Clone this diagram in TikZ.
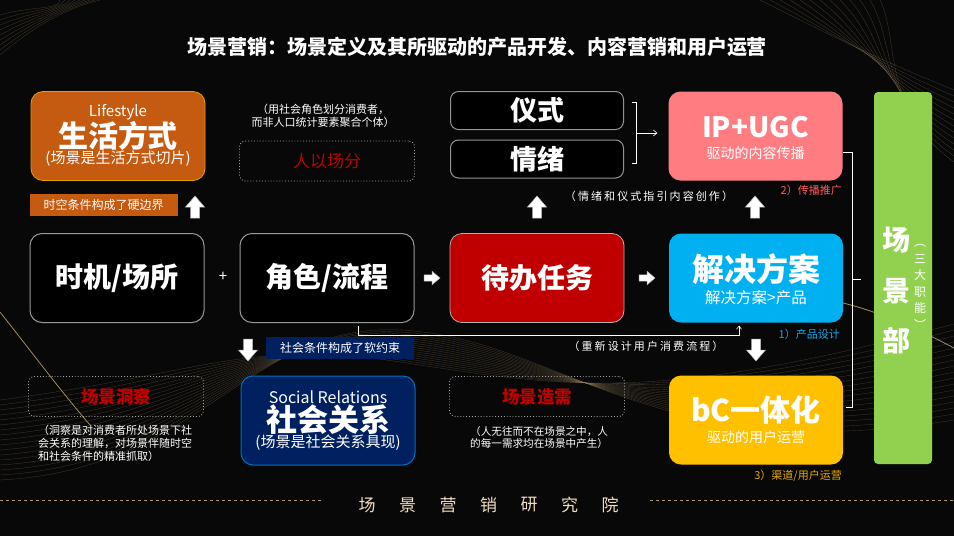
\documentclass[tikz,border=0pt]{standalone}
\usepackage{fontspec}
\setmainfont{Noto Sans CJK SC}
\usetikzlibrary{positioning,arrows.meta}

\definecolor{bgblack}{HTML}{080808}
\definecolor{lifeorange}{HTML}{C55A11}
\definecolor{lifeedge}{HTML}{E0A000}
\definecolor{ippink}{HTML}{FF7C80}
\definecolor{taskred}{HTML}{C00000}
\definecolor{solblue}{HTML}{00B0F0}
\definecolor{bcyellow}{HTML}{FFC000}
\definecolor{deptgreen}{HTML}{92D050}
\definecolor{socnavy}{HTML}{002060}
\definecolor{socedge}{HTML}{0070C0}
\definecolor{capred}{HTML}{FF5B5B}
\definecolor{capblue}{HTML}{10A8E8}
\definecolor{capyellow}{HTML}{E8AA00}
\definecolor{goldline}{HTML}{A08A60}
\definecolor{footbeige}{HTML}{F0DEC0}

\newcommand{\fsz}[1]{\fontsize{#1}{#1}\selectfont}

\tikzset{
  card/.style={rounded corners=12pt, minimum width=174pt, minimum height=89pt, inner sep=0pt},
  darkcard/.style={card, draw=gray!80, line width=1pt, fill=black},
  slimcard/.style={draw=gray!85, line width=1pt, fill=black, rounded corners=8pt,
    minimum width=173pt, minimum height=38pt, inner sep=0pt},
  dotbox/.style={draw=gray!75, dotted, line width=0.9pt, rounded corners=6pt,
    minimum width=175pt, minimum height=40pt, inner sep=0pt},
  tagbox/.style={minimum width=148pt, minimum height=22pt, inner sep=0pt,
    text=white, font=\fsz{12}},
  headtxt/.style={text=white, font=\fsz{28}\bfseries, inner sep=0pt},
  subtxt/.style={text=white, font=\fsz{14}, inner sep=0pt},
  note/.style={text=white, font=\fontsize{11}{13}\selectfont, inner sep=0pt},
  spaced/.style={text=white, inner sep=0pt,
    font=\fsz{11}\addfontfeature{LetterSpace=19}},
  wave/.style={draw=goldline, line width=0.3pt, opacity=0.4},
  thinline/.style={draw=white, line width=0.6pt},
  footline/.style={draw=goldline!90!white, dashed, line width=0.7pt},
  blkarrow/.pic={
    \filldraw[fill=white, draw=gray!60, line width=0.5pt]
      (-4.5,11) -- (-4.5,0) -- (-9.5,0) -- (0,-11) -- (9.5,0) -- (4.5,0) -- (4.5,11) -- cycle;
  }
}

\begin{document}
\begin{tikzpicture}[x=1pt, y=-1pt]
  \useasboundingbox (0,0) rectangle (954,536);
  \clip (0,0) rectangle (954,536);
  \fill[bgblack] (0,0) rectangle (954,536);

  % background waves
  \foreach \i in {0,...,16} {
    \draw[wave] (0,480-5*\i) .. controls (200,470-6*\i) and (250,322+\i) .. (400,330+2*\i)
      .. controls (560,338+3*\i) and (650,470-4*\i) .. (954,420-6*\i);
  }
  \foreach \i in {0,...,12} {
    \draw[wave] (760+10*\i,0) .. controls (840+5*\i,40) and (880,60+4*\i) .. (954,90+6*\i);
  }
  \foreach \i in {0,...,8} {
    \draw[wave] (0,55-5*\i) .. controls (30,30-3*\i) and (60,10) .. (100-5*\i,0);
  }
  \draw[goldline, line width=0.8pt] (0,312) .. controls (30,350) and (60,390) .. (90,425);
  \draw[goldline, line width=0.8pt] (843,303) .. controls (880,312) and (920,330) .. (954,348);

  % title
  \node[text=white, font=\fsz{20}\bfseries] (title) at (477,47)
    {场景营销：场景定义及其所驱动的产品开发、内容营销和用户运营};

  % top row
  \node[card, fill=lifeorange, draw=lifeedge, line width=0.8pt] (life) at (118,136) {};
  \node[text=white, font=\fsz{15}, inner sep=0pt] (lifeEn) at (118,112) {Lifestyle};
  \node[headtxt, font=\fsz{30}\bfseries] (lifeCn) at (118,136) {生活方式};
  \node[subtxt, font=\fsz{15}] (lifeSub) at (118,159) {(场景是生活方式切片)};
  \node[tagbox, fill=lifeorange] (hardtag) at (103.5,205) {时空条件构成了硬边界};
  \path (195,207) pic {blkarrow};

  \node[note, align=center] (roleNote) at (323,116)
    {（用社会角色划分消费者，\\而非人口统计要素聚合个体）};
  \node[dotbox, text=taskred, font=\fsz{17}] (bygroup) at (327,161) {人以场分};

  \node[slimcard, headtxt, font=\fsz{27}\bfseries] (ritual) at (537,110.5) {仪式};
  \node[slimcard, headtxt, font=\fsz{27}\bfseries] (emotion) at (537,159) {情绪};
  \coordinate (brTop) at (632,102);
  \coordinate (brBot) at (632,163);
  \coordinate (brMid) at (636,133);
  \draw[thinline] (brTop) -- ++(4,0) -- ([xshift=4pt]brBot) -- (brBot);

  \node[card, fill=ippink] (ip) at (755.5,136) {};
  \node[headtxt] (ipT) at (755.5,127) {IP+UGC};
  \node[subtxt] (ipSub) at (755.5,153) {驱动的内容传播};
  \draw[thinline, -{Straight Barb[length=3.5pt,width=6pt]}, shorten >=11pt] (brMid) -- (brMid -| ip.west);
  \node[text=capred, font=\fsz{11}, inner sep=0pt, anchor=east] (cap2) at (842,190) {2）传播推广};
  \node[spaced] (ritualNote) at (649,196) {（情绪和仪式指引内容创作）};
  \path (537,207) pic {blkarrow};
  \path (755,207) pic {blkarrow};

  % middle row
  \node[darkcard, headtxt] (timeplace) at (117,278) {时机/场所};
  \node[text=white, font=\fsz{15}, inner sep=0pt] (plus) at (223,277) {+};
  \node[darkcard, headtxt] (role) at (327,278) {角色/流程};
  \path (432,278) pic[rotate=-90, scale=0.72] {blkarrow};
  \node[card, fill=taskred, draw=gray!60, line width=0.8pt, headtxt] (task) at (537,278) {待办任务};
  \path (647,278) pic[rotate=-90, scale=0.72] {blkarrow};
  \node[card, fill=solblue] (sol) at (756,278) {};
  \node[headtxt, font=\fsz{32}\bfseries] (solT) at (756,269) {解决方案};
  \node[subtxt, font=\fsz{15.5}] (solSub) at (756,298) {解决方案>产品};
  \node[text=capblue, font=\fsz{11}, inner sep=0pt, anchor=east] (cap1) at (840,334) {1）产品设计};

  \draw[thinline, -{Straight Barb[length=3pt,width=5pt]}]
    ([xshift=31pt,yshift=-3pt]role.south) -- ++(0,9) -| ([xshift=-17pt,yshift=-3pt]sol.south);
  \node[spaced] (redesign) at (646,346) {（重新设计用户消费流程）};

  \path (248,350) pic[rotate=180] {blkarrow};
  \node[tagbox, fill=socnavy] (softtag) at (340,348) {社会条件构成了软约束};
  \path (756,350) pic[rotate=180] {blkarrow};

  % bottom row
  \node[dotbox, text=taskred, font=\fsz{17.5}\bfseries] (insight) at (116,396.5) {场景洞察};
  \node[note, align=left, anchor=north west] (insightNote) at (38,425)
    {（洞察是对消费者所处场景下社\\会关系的理解，对场景伴随时空\\和社会条件的精准抓取）};

  \node[card, fill=socnavy, draw=socedge, line width=1pt] (social) at (328,420.5) {};
  \node[text=white, font=\fsz{16}, inner sep=0pt] (socialEn) at (328,397) {Social Relations};
  \node[headtxt, font=\fsz{31}\bfseries] (socialCn) at (328,420) {社会关系};
  \node[subtxt, font=\fsz{15}] (socialSub) at (328,443) {(场景是社会关系具现)};

  \node[dotbox, text=taskred, font=\fsz{17.5}\bfseries] (demand) at (537,396.5) {场景造需};
  \node[note, align=left, anchor=north west, font=\fontsize{10.6}{12.5}\selectfont] (demandNote) at (470,426)
    {（人无往而不在场景之中，人\\的每一需求均在场景中产生）};

  \node[card, fill=bcyellow] (bc) at (756,420) {};
  \node[headtxt, font=\fsz{30}\bfseries] (bcT) at (756,410) {bC一体化};
  \node[subtxt] (bcSub) at (756,437) {驱动的用户运营};
  \node[text=capyellow, font=\fsz{11}, inner sep=0pt, anchor=east] (cap3) at (842,476) {3）渠道/用户运营};

  % department column
  \node[fill=deptgreen, rounded corners=4pt, minimum width=58pt, minimum height=372pt, inner sep=0pt] (dept) at (903,278) {};
  \node[headtxt] (deptA) at (896,240) {场};
  \node[headtxt] (deptB) at (896,291) {景};
  \node[headtxt] (deptC) at (896,341) {部};
  \node[text=white, font=\fontsize{12}{16.5}\selectfont, align=center, inner sep=0pt] (deptNote) at (920,287)
    {︵\\三\\大\\职\\能\\︶};
  \coordinate (rbTop) at (843,152);
  \coordinate (rbBot) at (846,407);
  \coordinate (rbMid) at (852,279);
  \draw[thinline] (rbTop) -- (852,152) -- (852,407) -- (rbBot);
  \draw[thinline] (rbMid) -- ++(9,0);

  % footer
  \draw[footline] (0,500) -- (323,500);
  \draw[footline] (650,500) -- (954,500);
  \foreach \ch [count=\i from 0] in {场,景,营,销,研,究,院} {
    \node[text=footbeige, font=\fsz{17}, inner sep=0pt] (ft\i) at (367+40.5*\i,505) {\ch};
  }
\end{tikzpicture}
\end{document}
